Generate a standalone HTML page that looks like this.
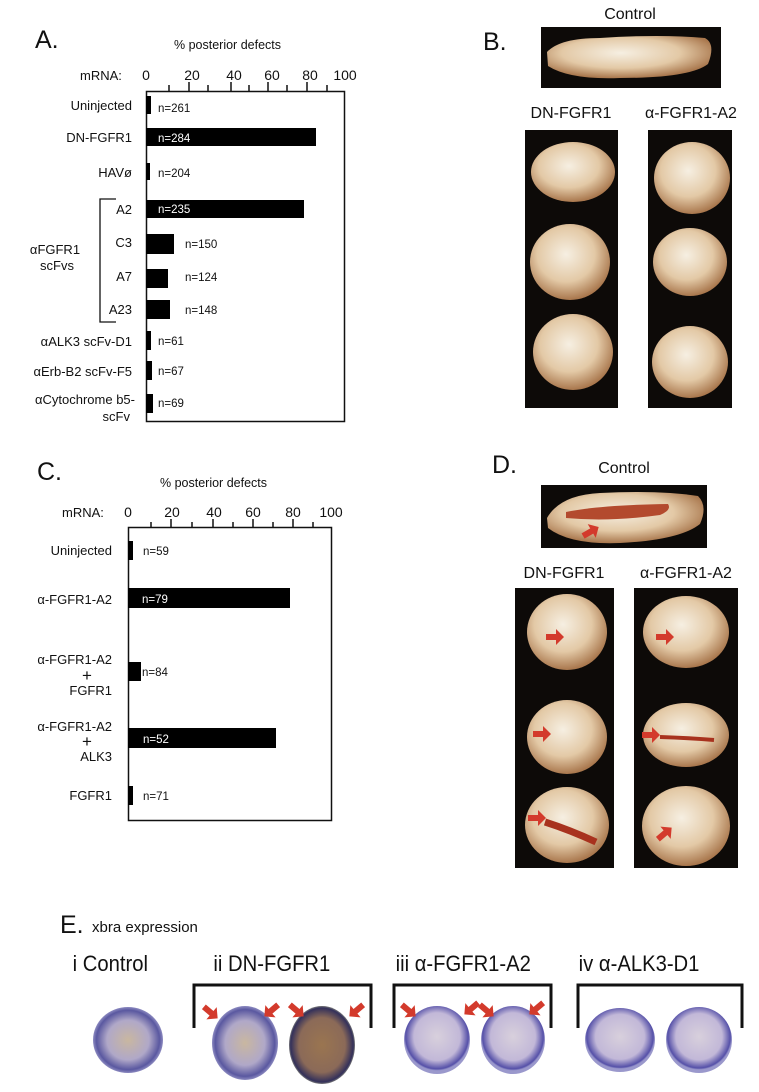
<!DOCTYPE html>
<html><head><meta charset="utf-8"><style>
html,body{margin:0;padding:0;background:#fff}
svg{display:block}
text{font-family:"Liberation Sans","DejaVu Sans",sans-serif;fill:#111}
</style></head><body>
<svg width="759" height="1092" viewBox="0 0 759 1092" xmlns="http://www.w3.org/2000/svg">
<defs>
<radialGradient id="emb" cx="45%" cy="40%" r="60%">
<stop offset="0" stop-color="#f6efe2"/><stop offset="0.6" stop-color="#e3c9a6"/><stop offset="1" stop-color="#a9774d"/>
</radialGradient>
<radialGradient id="egg" cx="50%" cy="50%" r="50%">
<stop offset="0" stop-color="#c9b7a0"/><stop offset="0.6" stop-color="#b0a8c8"/><stop offset="0.9" stop-color="#5a58a0"/><stop offset="1" stop-color="#8c8ac0"/>
</radialGradient>
<radialGradient id="egg2" cx="50%" cy="50%" r="50%">
<stop offset="0" stop-color="#9a7550"/><stop offset="0.7" stop-color="#8b6a58"/><stop offset="0.95" stop-color="#33305a"/><stop offset="1" stop-color="#777"/>
</radialGradient>
<radialGradient id="egg3" cx="50%" cy="45%" r="50%">
<stop offset="0" stop-color="#d8d0dc"/><stop offset="0.7" stop-color="#c2b8d8"/><stop offset="0.95" stop-color="#5550a8"/><stop offset="1" stop-color="#9a98cc"/>
</radialGradient>
<g id="arr"><polygon points="-8,-3 2,-3 2,-8 10,0 2,8 2,3 -8,3" fill="#d33a2c"/></g>
</defs>

<!-- Panel A -->
<text x="35" y="48" font-size="25">A.</text>
<text x="174" y="49" font-size="12.5">% posterior defects</text>
<text x="80" y="80" font-size="13">mRNA:</text>
<g font-size="14" text-anchor="middle">
<text x="146" y="80">0</text><text x="192" y="80">20</text><text x="234" y="80">40</text><text x="272" y="80">60</text><text x="310" y="80">80</text><text x="345" y="80">100</text>
</g>
<rect x="146.5" y="91.5" width="198" height="330" fill="none" stroke="#111" stroke-width="1.5"/>
<g stroke="#111" stroke-width="1.5">
<line x1="169" y1="85" x2="169" y2="91"/><line x1="189" y1="82" x2="189" y2="91"/><line x1="208" y1="85" x2="208" y2="91"/><line x1="231" y1="82" x2="231" y2="91"/><line x1="249" y1="85" x2="249" y2="91"/><line x1="268" y1="82" x2="268" y2="91"/><line x1="287" y1="85" x2="287" y2="91"/><line x1="307" y1="82" x2="307" y2="91"/><line x1="327" y1="85" x2="327" y2="91"/>
</g>
<g font-size="13" text-anchor="end">
<text x="132" y="110">Uninjected</text>
<text x="132" y="142">DN-FGFR1</text>
<text x="132" y="177">HAVø</text>
<text x="132" y="214">A2</text>
<text x="132" y="247">C3</text>
<text x="132" y="281">A7</text>
<text x="132" y="314">A23</text>
<text x="132" y="346">αALK3 scFv-D1</text>
<text x="132" y="376">αErb-B2 scFv-F5</text>
<text x="135" y="404">αCytochrome b5-</text>
<text x="130" y="421">scFv</text>
</g>
<text x="55" y="254" font-size="13" text-anchor="middle">αFGFR1</text>
<text x="57" y="270" font-size="13" text-anchor="middle">scFvs</text>
<polyline points="116,199 100,199 100,322 116,322" fill="none" stroke="#111" stroke-width="1.3"/>
<g fill="#000">
<rect x="146" y="96" width="5" height="18"/>
<rect x="146" y="128" width="170" height="18"/>
<rect x="146" y="163" width="4" height="17"/>
<rect x="146" y="200" width="158" height="18"/>
<rect x="146" y="234" width="28" height="20"/>
<rect x="146" y="269" width="22" height="19"/>
<rect x="146" y="300" width="24" height="19"/>
<rect x="146" y="331" width="5" height="19"/>
<rect x="146" y="361" width="6" height="19"/>
<rect x="146" y="394" width="7" height="19"/>
</g>
<g font-size="11.5">
<text x="158" y="112">n=261</text>
<text x="158" y="142" fill="#fff" style="fill:#fff">n=284</text>
<text x="158" y="177">n=204</text>
<text x="158" y="213" style="fill:#fff">n=235</text>
<text x="185" y="248">n=150</text>
<text x="185" y="281">n=124</text>
<text x="185" y="314">n=148</text>
<text x="158" y="345">n=61</text>
<text x="158" y="375">n=67</text>
<text x="158" y="407">n=69</text>
</g>

<!-- Panel C -->
<text x="37" y="480" font-size="25">C.</text>
<text x="160" y="487" font-size="12.5">% posterior defects</text>
<text x="62" y="517" font-size="13">mRNA:</text>
<g font-size="14" text-anchor="middle">
<text x="128" y="517">0</text><text x="172" y="517">20</text><text x="214" y="517">40</text><text x="253" y="517">60</text><text x="293" y="517">80</text><text x="331" y="517">100</text>
</g>
<rect x="128.5" y="527.5" width="203" height="293" fill="none" stroke="#111" stroke-width="1.5"/>
<g stroke="#111" stroke-width="1.5">
<line x1="151" y1="522" x2="151" y2="528"/><line x1="171" y1="519" x2="171" y2="528"/><line x1="192" y1="522" x2="192" y2="528"/><line x1="213" y1="519" x2="213" y2="528"/><line x1="233" y1="522" x2="233" y2="528"/><line x1="253" y1="519" x2="253" y2="528"/><line x1="273" y1="522" x2="273" y2="528"/><line x1="293" y1="519" x2="293" y2="528"/><line x1="313" y1="522" x2="313" y2="528"/>
</g>
<g font-size="13" text-anchor="end">
<text x="112" y="555">Uninjected</text>
<text x="112" y="604">α-FGFR1-A2</text>
<text x="112" y="664">α-FGFR1-A2</text>
<text x="112" y="695">FGFR1</text>
<text x="112" y="731">α-FGFR1-A2</text>
<text x="112" y="761">ALK3</text>
<text x="112" y="800">FGFR1</text>
</g>
<g font-size="17" text-anchor="middle"><text x="87" y="681">+</text><text x="87" y="747">+</text></g>
<g fill="#000">
<rect x="128" y="541" width="5" height="19"/>
<rect x="128" y="588" width="162" height="20"/>
<rect x="128" y="662" width="13" height="19"/>
<rect x="128" y="728" width="148" height="20"/>
<rect x="128" y="786" width="5" height="19"/>
</g>
<g font-size="11.5">
<text x="143" y="555">n=59</text>
<text x="142" y="603" style="fill:#fff">n=79</text>
<text x="142" y="676">n=84</text>
<text x="143" y="743" style="fill:#fff">n=52</text>
<text x="143" y="800">n=71</text>
</g>

<!-- Panel B -->
<text x="483" y="50" font-size="25">B.</text>
<text x="630" y="19" font-size="16" text-anchor="middle">Control</text>
<rect x="541" y="27" width="180" height="61" fill="#0d0a08"/>
<path d="M547,52 Q560,38 600,38 Q660,34 705,38 Q716,44 708,64 Q690,78 620,78 Q570,80 548,66 Z" fill="url(#emb)"/>
<text x="571" y="118" font-size="16" text-anchor="middle">DN-FGFR1</text>
<text x="691" y="118" font-size="16" text-anchor="middle">α-FGFR1-A2</text>
<rect x="525" y="130" width="93" height="278" fill="#0d0a08"/>
<rect x="648" y="130" width="84" height="278" fill="#0d0a08"/>
<g fill="url(#emb)">
<ellipse cx="573" cy="172" rx="42" ry="30"/>
<ellipse cx="570" cy="262" rx="40" ry="38"/>
<ellipse cx="573" cy="352" rx="40" ry="38"/>
<ellipse cx="692" cy="178" rx="38" ry="36"/>
<ellipse cx="690" cy="262" rx="37" ry="34"/>
<ellipse cx="690" cy="362" rx="38" ry="36"/>
</g>

<!-- Panel D -->
<text x="492" y="473" font-size="25">D.</text>
<text x="624" y="473" font-size="16" text-anchor="middle">Control</text>
<rect x="541" y="485" width="166" height="63" fill="#0d0a08"/>
<path d="M547,518 Q560,495 600,493 Q660,490 698,496 Q708,506 700,524 Q680,540 620,543 Q570,545 548,528 Z" fill="url(#emb)"/>
<path d="M566,512 Q600,505 668,504 Q672,510 660,515 Q610,522 566,518 Z" fill="#b34a2e"/>
<use href="#arr" transform="translate(590,532) rotate(-30)"/>
<text x="564" y="578" font-size="16" text-anchor="middle">DN-FGFR1</text>
<text x="686" y="578" font-size="16" text-anchor="middle">α-FGFR1-A2</text>
<rect x="515" y="588" width="99" height="280" fill="#0d0a08"/>
<rect x="634" y="588" width="104" height="280" fill="#0d0a08"/>
<g fill="url(#emb)">
<ellipse cx="567" cy="632" rx="40" ry="38"/>
<ellipse cx="567" cy="737" rx="40" ry="37"/>
<ellipse cx="567" cy="825" rx="42" ry="38"/>
<ellipse cx="686" cy="632" rx="43" ry="36"/>
<ellipse cx="686" cy="735" rx="43" ry="32"/>
<ellipse cx="686" cy="826" rx="44" ry="40"/>
</g>
<path d="M545,822 Q570,830 596,842" stroke="#a8321e" stroke-width="7" fill="none"/>
<path d="M660,737 Q690,738 714,740" stroke="#a8321e" stroke-width="4" fill="none"/>
<use href="#arr" transform="translate(554,637)"/>
<use href="#arr" transform="translate(541,734)"/>
<use href="#arr" transform="translate(536,818)"/>
<use href="#arr" transform="translate(664,637)"/>
<use href="#arr" transform="translate(650,735)"/>
<use href="#arr" transform="translate(664,834) rotate(-40)"/>

<!-- Panel E -->
<text x="60" y="933" font-size="25">E.</text>
<text x="92" y="932" font-size="15">xbra expression</text>
<g font-size="22" transform="scale(0.92,1)">
<text x="79" y="971">i Control</text>
<text x="232" y="971">ii DN-FGFR1</text>
<text x="430" y="971">iii α-FGFR1-A2</text>
<text x="629" y="971">iv α-ALK3-D1</text>
</g>
<g fill="none" stroke="#111" stroke-width="3">
<polyline points="194,1028 194,985 371,985 371,1028"/>
<polyline points="394,1028 394,985 551,985 551,1028"/>
<polyline points="578,1028 578,985 742,985 742,1028"/>
</g>
<ellipse cx="128" cy="1040" rx="35" ry="33" fill="url(#egg)"/>
<ellipse cx="245" cy="1043" rx="33" ry="37" fill="url(#egg)"/>
<ellipse cx="322" cy="1045" rx="33" ry="39" fill="url(#egg2)"/>
<ellipse cx="437" cy="1040" rx="33" ry="34" fill="url(#egg3)"/>
<ellipse cx="513" cy="1040" rx="32" ry="34" fill="url(#egg3)"/>
<ellipse cx="620" cy="1040" rx="35" ry="32" fill="url(#egg3)"/>
<ellipse cx="699" cy="1040" rx="33" ry="33" fill="url(#egg3)"/>
<use href="#arr" transform="translate(210,1012) rotate(40)"/>
<use href="#arr" transform="translate(272,1010) rotate(140)"/>
<use href="#arr" transform="translate(296,1010) rotate(40)"/>
<use href="#arr" transform="translate(357,1010) rotate(140)"/>
<use href="#arr" transform="translate(408,1010) rotate(40)"/>
<use href="#arr" transform="translate(472,1008) rotate(140)"/>
<use href="#arr" transform="translate(486,1010) rotate(40)"/>
<use href="#arr" transform="translate(537,1008) rotate(140)"/>
</svg>
</body></html>
